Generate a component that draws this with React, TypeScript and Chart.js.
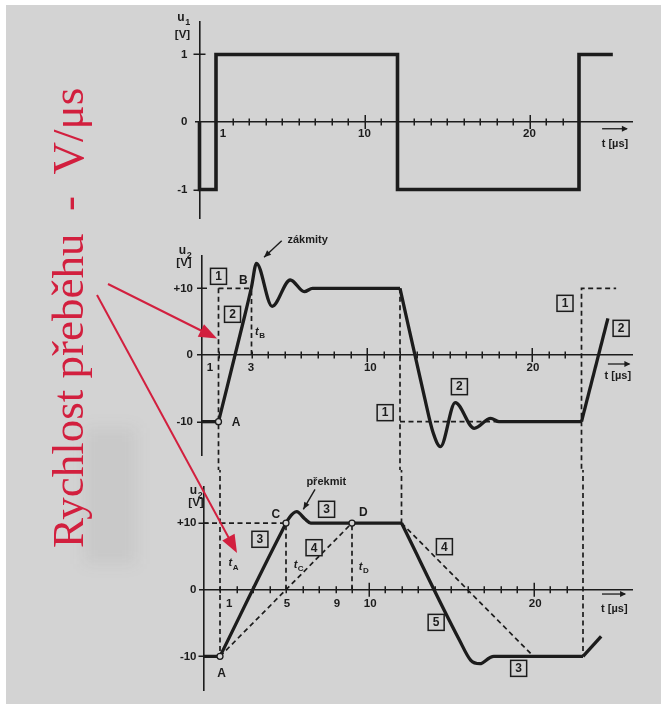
import React, { useEffect, useRef } from 'react';
import { Chart, registerables } from 'chart.js';

Chart.register(...registerables);

const PAGE_W = 661;
const PAGE_H = 704;
const INK = '#1c1c1c';
const PAPER = '#d3d3d3';
const RED = '#d21f3e';
const SANS = "'Liberation Sans', Arial, sans-serif";
const SERIF = "'Liberation Serif', 'Times New Roman', serif";

// ---------- u1: input step signal ----------
const u1Time = [0, 0, 1, 1, 12, 12, 23, 23, 25.05];
const u1Volt = [0, -1, -1, 1, 1, -1, -1, 1, 1];
const u1LabelTime = [1.42, 10, 20];
const u1LabelText = ['1', '10', '20'];
const u1AxisVolt = [1, 0, -1];
const u1AxisText = ['1', '0', '-1'];

// ---------- u2, cases [1]/[2]: ideal edge and fast edge with ringing ----------
const ringLeadTime = [0, 1];
const ringLeadVolt = [-10, -10];
const ringRiseTime = [1, 2.6, 3.0, 3.3, 4.25, 5.35, 6.2, 6.7, 12];
const ringRiseVolt = [-10, 6, 10.2, 13.75, 7.3, 11.25, 9.5, 10, 10];
const ringFallTime = [12, 13.5, 14.0, 14.45, 15.35, 16.5, 17.5, 18.0, 23];
const ringFallVolt = [10, -6.5, -11.6, -13.75, -7.15, -11.0, -9.5, -10, -10];
const ringTailTime = [23, 24.6];
const ringTailVolt = [-10, 5.5];
// ideal response [1] plus the t_B marker; null breaks the dashed path
const ringDashTime = [1, 1, null, 1, 3, null, 3, 3, null, 12, 12, null, 12, 18, null, 23, 23, 25.1];
const ringDashVolt = [10, -40, null, 10, 10, null, 0, 10, null, 10, -40, null, -10, -10, null, -40, 10, 10];
const ringDotTime = [1];
const ringDotVolt = [-10];
const ringLabelTime = [0.48, 2.97, 10.2, 20.06];
const ringLabelText = ['1', '3', '10', '20'];
const ringAxisVolt = [10, 0, -10];
const ringAxisText = ['+10', '0', '-10'];
const ringBoxTime = [1, 1.85, 15.6, 11.1, 22.0, 25.4];
const ringBoxVolt = [11.8, 6.1, -4.75, -8.65, 7.75, 4.0];
const ringBoxText = ['1', '2', '2', '1', '1', '2'];
const ringLetterTime = [2.5, 2.06];
const ringLetterVolt = [11.1, -10.15];
const ringLetterText = ['B', 'A'];
const ringSubTime = [3.5];
const ringSubVolt = [3.5];
const ringSubText = ['B'];

// ---------- u2, cases [3]/[4]/[5]: slew-rate limited output ----------
const slewLeadTime = [0, 1];
const slewLeadVolt = [-10, -10];
const slewRiseTime = [1, 4.7, 5.2, 5.65, 6.15, 6.5, 12];
const slewRiseVolt = [-10, 8.5, 10.8, 11.7, 10.6, 10, 10];
const slewFallTime = [12, 15.5, 16.2, 16.75, 17.35, 17.6, 23];
const slewFallVolt = [10, -7.5, -10.6, -11.1, -10.2, -10, -10];
const slewTailTime = [23, 24.1];
const slewTailVolt = [-10, -7];
const slewDashTime = [1, 1, null, 12, 12, null, 23, 23, null, 0, 5, null, 5, 5, null, 9, 9, null, 1, 9, null, 12, 20];
const slewDashVolt = [40, -10, null, 40, 10, null, 40, -10, null, 10, 10, null, 0, 10, null, 0, 10, null, -10, 10, null, 10, -10];
const slewDotTime = [1, 5, 9];
const slewDotVolt = [-10, 10, 10];
const slewLabelTime = [1.55, 5.06, 8.09, 10.1, 20.1];
const slewLabelText = ['1', '5', '9', '10', '20'];
const slewAxisVolt = [10, 0, -10];
const slewAxisText = ['+10', '0', '-10'];
const slewBoxTime = [7.46, 3.42, 6.7, 14.6, 14.1, 19.1];
const slewBoxVolt = [12.06, 7.56, 6.3, 6.45, -4.9, -11.8];
const slewBoxText = ['3', '3', '4', '4', '5', '3'];
const slewLetterTime = [4.39, 9.68, 1.1];
const slewLetterVolt = [11.2, 11.55, -12.65];
const slewLetterText = ['C', 'D', 'A'];
const slewSubTime = [1.8, 5.75, 9.7];
const slewSubVolt = [3.96, 3.7, 3.45];
const slewSubText = ['A', 'C', 'D'];

const TICKS_US = Array.from({ length: 22 }, (_, i) => i + 1);

type Geometry = {
  top: number; height: number;
  axisX: number; zeroY: number;
  pxPerUs: number; pxPerVolt: number;
  areaTop: number; areaBottom: number; areaRight: number; overhang: number;
};

type Note = { text: string; t: number; v: number; fromT: number; fromV: number; toT: number; toV: number };

type Spec = {
  geo: Geometry;
  lines: { t: number[]; v: number[]; width: number; smooth: boolean }[];
  dashT: (number | null)[]; dashV: (number | null)[];
  dotT: number[]; dotV: number[];
  majorT: number[]; yTickV: number[]; yTickHalf: number;
  labelT: number[]; labelText: string[]; labelDy: number;
  axisV: number[]; axisText: string[]; axisGap: number;
  titleSub: string; titleDx: number; titleDy: number; unitDx: number; unitDy: number;
  unitT: number; unitV: number; unitArrowT0: number; unitArrowT1: number; unitArrowV: number;
  boxT: number[]; boxV: number[]; boxText: string[];
  letterT: number[]; letterV: number[]; letterText: string[];
  subT: number[]; subV: number[]; subText: string[];
  note: Note | null;
};

const pts = (t: (number | null)[], v: (number | null)[]) => {
  let last = 0;
  return t.map((tt, i) => {
    if (tt === null || v[i] === null) return { x: last, y: null };
    last = tt;
    return { x: tt, y: v[i] };
  });
};

function arrowHead(ctx: CanvasRenderingContext2D, x0: number, y0: number, x1: number, y1: number, len: number, half: number) {
  const a = Math.atan2(y1 - y0, x1 - x0);
  ctx.beginPath();
  ctx.moveTo(x1, y1);
  ctx.lineTo(x1 - len * Math.cos(a) + half * Math.sin(a), y1 - len * Math.sin(a) - half * Math.cos(a));
  ctx.lineTo(x1 - len * Math.cos(a) - half * Math.sin(a), y1 - len * Math.sin(a) + half * Math.cos(a));
  ctx.closePath();
  ctx.fill();
}

function subscripted(ctx: CanvasRenderingContext2D, main: string, sub: string, x: number, y: number, size: number, italic: boolean) {
  const mainFont = `${italic ? 'italic ' : ''}bold ${size}px ${SANS}`;
  const subFont = `bold ${Math.round(size * 0.75)}px ${SANS}`;
  ctx.font = mainFont;
  const w1 = ctx.measureText(main).width;
  ctx.font = subFont;
  const w2 = ctx.measureText(sub).width;
  const x0 = x - (w1 + w2) / 2;
  ctx.textAlign = 'left';
  ctx.textBaseline = 'middle';
  ctx.font = mainFont;
  ctx.fillText(main, x0, y);
  ctx.font = subFont;
  ctx.fillText(sub, x0 + w1 + 0.5, y + size * 0.38);
}

function marksPlugin(spec: Spec) {
  return {
    id: 'figureMarks',
    beforeDatasetsDraw(chart: any) {
      const { ctx, scales: { x, y } } = chart;
      const x0 = x.getPixelForValue(0);
      const y0 = y.getPixelForValue(0);
      ctx.save();
      ctx.strokeStyle = INK;
      ctx.lineWidth = 1.5;
      ctx.beginPath();
      for (const t of TICKS_US) {
        const half = spec.majorT.includes(t) ? 7 : 3.5;
        const px = Math.round(x.getPixelForValue(t)) + 0.25;
        ctx.moveTo(px, y0 - half);
        ctx.lineTo(px, y0 + half);
      }
      for (const v of spec.yTickV) {
        const py = Math.round(y.getPixelForValue(v)) + 0.25;
        ctx.moveTo(x0 - spec.yTickHalf, py);
        ctx.lineTo(x0 + spec.yTickHalf, py);
      }
      ctx.stroke();
      ctx.restore();
    },
    afterDatasetsDraw(chart: any) {
      const { ctx, scales: { x, y }, chartArea } = chart;
      const px = (t: number) => x.getPixelForValue(t);
      const py = (v: number) => y.getPixelForValue(v);
      const x0 = px(0);
      const y0 = py(0);
      ctx.save();
      ctx.fillStyle = INK;
      ctx.strokeStyle = INK;

      // time-axis numbers
      ctx.font = `bold 11.5px ${SANS}`;
      ctx.textAlign = 'center';
      ctx.textBaseline = 'middle';
      spec.labelT.forEach((t, i) => ctx.fillText(spec.labelText[i], px(t), y0 + spec.labelDy));

      // voltage-axis numbers
      ctx.textAlign = 'right';
      spec.axisV.forEach((v, i) => ctx.fillText(spec.axisText[i], x0 - spec.axisGap, py(v)));

      // axis title u [V]
      subscripted(ctx, 'u', spec.titleSub, x0 + spec.titleDx, chartArea.top + spec.titleDy, 12, false);
      ctx.font = `bold 11.5px ${SANS}`;
      ctx.textAlign = 'center';
      ctx.fillText('[V]', x0 + spec.unitDx, chartArea.top + spec.unitDy);

      // t [µs] with its arrow
      ctx.font = `bold 11px ${SANS}`;
      ctx.textAlign = 'center';
      ctx.fillText('t [µs]', px(spec.unitT), py(spec.unitV));
      ctx.lineWidth = 1.3;
      ctx.beginPath();
      ctx.moveTo(px(spec.unitArrowT0), py(spec.unitArrowV));
      ctx.lineTo(px(spec.unitArrowT1), py(spec.unitArrowV));
      ctx.stroke();
      arrowHead(ctx, px(spec.unitArrowT0), py(spec.unitArrowV), px(spec.unitArrowT1) + 1, py(spec.unitArrowV), 6, 3);

      // numbered boxes
      spec.boxT.forEach((t, i) => {
        const cx = px(t);
        const cy = py(spec.boxV[i]);
        ctx.fillStyle = PAPER;
        ctx.fillRect(cx - 8, cy - 8, 16, 16);
        ctx.lineWidth = 1.5;
        ctx.strokeStyle = INK;
        ctx.strokeRect(cx - 8, cy - 8, 16, 16);
        ctx.fillStyle = INK;
        ctx.font = `bold 12px ${SANS}`;
        ctx.textAlign = 'center';
        ctx.fillText(spec.boxText[i], cx, cy + 0.5);
      });

      // point letters
      ctx.font = `bold 12px ${SANS}`;
      ctx.textAlign = 'center';
      spec.letterT.forEach((t, i) => ctx.fillText(spec.letterText[i], px(t), py(spec.letterV[i])));

      // t_X time marks
      spec.subT.forEach((t, i) => subscripted(ctx, 't', spec.subText[i], px(t), py(spec.subV[i]), 11, true));

      // annotation with pointer
      if (spec.note) {
        const n = spec.note;
        ctx.font = `bold 11px ${SANS}`;
        ctx.textAlign = 'center';
        ctx.fillText(n.text, px(n.t), py(n.v));
        ctx.lineWidth = 1.4;
        ctx.beginPath();
        ctx.moveTo(px(n.fromT), py(n.fromV));
        ctx.lineTo(px(n.toT), py(n.toV));
        ctx.stroke();
        arrowHead(ctx, px(n.fromT), py(n.fromV), px(n.toT), py(n.toV), 7, 3);
      }
      ctx.restore();
    },
  };
}

function buildConfig(spec: Spec): any {
  const g = spec.geo;
  const datasets: any[] = [];
  spec.dotT.length && datasets.push({
    data: pts(spec.dotT, spec.dotV),
    showLine: false,
    pointRadius: 3,
    pointBorderWidth: 1.3,
    pointBackgroundColor: PAPER,
    pointBorderColor: INK,
    order: 0,
  });
  spec.lines.forEach((l) => datasets.push({
    data: pts(l.t, l.v),
    borderColor: INK,
    borderWidth: l.width,
    pointRadius: 0,
    tension: 0,
    cubicInterpolationMode: l.smooth ? 'monotone' : 'default',
    borderJoinStyle: 'miter',
    borderCapStyle: 'butt',
    fill: false,
    order: 1,
  }));
  if (spec.dashT.length) datasets.push({
    data: pts(spec.dashT, spec.dashV),
    borderColor: INK,
    borderWidth: 1.7,
    borderDash: [5, 3.5],
    pointRadius: 0,
    spanGaps: false,
    fill: false,
    clip: false,
    order: 2,
  });

  return {
    type: 'line',
    data: { datasets },
    options: {
      responsive: false,
      animation: false,
      events: [],
      layout: {
        padding: {
          left: g.axisX - g.overhang,
          right: PAGE_W - g.areaRight,
          top: g.areaTop - g.top,
          bottom: g.top + g.height - g.areaBottom,
        },
      },
      plugins: { legend: { display: false }, tooltip: { enabled: false } },
      scales: {
        x: {
          type: 'linear',
          min: -g.overhang / g.pxPerUs,
          max: (g.areaRight - g.axisX) / g.pxPerUs,
          position: { y: 0 },
          ticks: { display: false },
          grid: { display: false, drawTicks: false },
          border: { display: true, color: INK, width: 1.6 },
        },
        y: {
          type: 'linear',
          min: -(g.areaBottom - g.zeroY) / g.pxPerVolt,
          max: (g.zeroY - g.areaTop) / g.pxPerVolt,
          position: { x: 0 },
          ticks: { display: false },
          grid: { display: false, drawTicks: false },
          border: { display: true, color: INK, width: 1.6 },
        },
      },
    },
    plugins: [marksPlugin(spec)],
  };
}

const inputSpec: Spec = {
  geo: { top: 0, height: 228, axisX: 199.5, zeroY: 122, pxPerUs: 16.5, pxPerVolt: 67.5, areaTop: 22, areaBottom: 218, areaRight: 632, overhang: 4 },
  lines: [{ t: u1Time, v: u1Volt, width: 3.6, smooth: false }],
  dashT: [], dashV: [], dotT: [], dotV: [],
  majorT: [10, 20], yTickV: [1, -1], yTickHalf: 6,
  labelT: u1LabelTime, labelText: u1LabelText, labelDy: 12,
  axisV: u1AxisVolt, axisText: u1AxisText, axisGap: 12,
  titleSub: '1', titleDx: -16, titleDy: -4, unitDx: -17, unitDy: 13,
  unitT: 25.18, unitV: -0.33, unitArrowT0: 24.4, unitArrowT1: 25.9, unitArrowV: -0.1,
  boxT: [], boxV: [], boxText: [],
  letterT: [], letterV: [], letterText: [],
  subT: [], subV: [], subText: [],
  note: null,
};

const ringSpec: Spec = {
  geo: { top: 228, height: 242, axisX: 202, zeroY: 355, pxPerUs: 16.5, pxPerVolt: 6.667, areaTop: 256, areaBottom: 455, areaRight: 632, overhang: 4 },
  lines: [
    { t: ringLeadTime, v: ringLeadVolt, width: 3.3, smooth: false },
    { t: ringRiseTime, v: ringRiseVolt, width: 3.3, smooth: true },
    { t: ringFallTime, v: ringFallVolt, width: 3.3, smooth: true },
    { t: ringTailTime, v: ringTailVolt, width: 3.3, smooth: false },
  ],
  dashT: ringDashTime, dashV: ringDashVolt, dotT: ringDotTime, dotV: ringDotVolt,
  majorT: [10, 20], yTickV: [10, -10], yTickHalf: 5,
  labelT: ringLabelTime, labelText: ringLabelText, labelDy: 12.5,
  axisV: ringAxisVolt, axisText: ringAxisText, axisGap: 9,
  titleSub: '2', titleDx: -17, titleDy: -5, unitDx: -18, unitDy: 7,
  unitT: 25.2, unitV: -3.15, unitArrowT0: 24.6, unitArrowT1: 25.9, unitArrowV: -1.35,
  boxT: ringBoxTime, boxV: ringBoxVolt, boxText: ringBoxText,
  letterT: ringLetterTime, letterV: ringLetterVolt, letterText: ringLetterText,
  subT: ringSubTime, subV: ringSubVolt, subText: ringSubText,
  note: { text: 'zákmity', t: 6.4, v: 17.25, fromT: 4.83, fromV: 17.15, toT: 3.76, toV: 14.65 },
};

const slewSpec: Spec = {
  geo: { top: 470, height: 234, axisX: 203.5, zeroY: 589.7, pxPerUs: 16.5, pxPerVolt: 6.667, areaTop: 486.7, areaBottom: 690, areaRight: 632, overhang: 4 },
  lines: [
    { t: slewLeadTime, v: slewLeadVolt, width: 3.3, smooth: false },
    { t: slewRiseTime, v: slewRiseVolt, width: 3.3, smooth: true },
    { t: slewFallTime, v: slewFallVolt, width: 3.3, smooth: true },
    { t: slewTailTime, v: slewTailVolt, width: 3.3, smooth: false },
  ],
  dashT: slewDashTime, dashV: slewDashVolt, dotT: slewDotTime, dotV: slewDotVolt,
  majorT: [10, 20], yTickV: [10, -10], yTickHalf: 5,
  labelT: slewLabelTime, labelText: slewLabelText, labelDy: 14,
  axisV: slewAxisVolt, axisText: slewAxisText, axisGap: 7,
  titleSub: '2', titleDx: -7.5, titleDy: 4, unitDx: -7.5, unitDy: 16,
  unitT: 24.9, unitV: -2.9, unitArrowT0: 24.15, unitArrowT1: 25.55, unitArrowV: -0.65,
  boxT: slewBoxTime, boxV: slewBoxVolt, boxText: slewBoxText,
  letterT: slewLetterTime, letterV: slewLetterVolt, letterText: slewLetterText,
  subT: slewSubTime, subV: slewSubVolt, subText: slewSubText,
  note: { text: 'překmit', t: 7.44, v: 16.2, fromT: 6.76, fromV: 15.06, toT: 6.05, toV: 12.06 },
};

function WavePanel({ spec }: { spec: Spec }) {
  const ref = useRef<HTMLCanvasElement | null>(null);
  useEffect(() => {
    if (!ref.current) return;
    const chart = new Chart(ref.current, buildConfig(spec));
    return () => chart.destroy();
  }, [spec]);
  return (
    <canvas
      ref={ref}
      width={PAGE_W}
      height={spec.geo.height}
      style={{ position: 'absolute', left: 0, top: spec.geo.top, width: PAGE_W, height: spec.geo.height }}
    />
  );
}

// red pointer arrows from the caption toward the rising edges
const pointerFrom = [[108, 284], [97, 295]];
const pointerTo = [[217, 338.5], [237, 553]];

function headPoints(x0: number, y0: number, x1: number, y1: number, len: number, half: number) {
  const a = Math.atan2(y1 - y0, x1 - x0);
  const bx = x1 - len * Math.cos(a);
  const by = y1 - len * Math.sin(a);
  return `${x1},${y1} ${bx + half * Math.sin(a)},${by - half * Math.cos(a)} ${bx - half * Math.sin(a)},${by + half * Math.cos(a)}`;
}

export default function App() {
  return (
    <div style={{ position: 'absolute', left: 0, top: 0, width: PAGE_W, height: PAGE_H, background: '#ffffff', overflow: 'hidden' }}>
      <div style={{ position: 'absolute', left: 6, top: 5, right: 0, bottom: 0, background: PAPER }} />
      <div style={{ position: 'absolute', left: 84, top: 428, width: 52, height: 136, background: 'rgba(70,70,70,0.07)', filter: 'blur(8px)' }} />
      <WavePanel spec={inputSpec} />
      <WavePanel spec={ringSpec} />
      <WavePanel spec={slewSpec} />
      <svg width={PAGE_W} height={PAGE_H} style={{ position: 'absolute', left: 0, top: 0, pointerEvents: 'none' }}>
        <text
          transform="translate(83 548) rotate(-90)"
          fontFamily={SERIF}
          fontSize={45}
          fill={RED}
          style={{ whiteSpace: 'pre' }}
        >
          {'Rychlost přeběhu  -  V/μs'}
        </text>
        {pointerFrom.map(([fx, fy], i) => {
          const [tx, ty] = pointerTo[i];
          const a = Math.atan2(ty - fy, tx - fx);
          return (
            <g key={i}>
              <line x1={fx} y1={fy} x2={tx - 14 * Math.cos(a)} y2={ty - 14 * Math.sin(a)} stroke={RED} strokeWidth={2} />
              <polygon points={headPoints(fx, fy, tx, ty, 18, 7)} fill={RED} />
            </g>
          );
        })}
      </svg>
    </div>
  );
}
